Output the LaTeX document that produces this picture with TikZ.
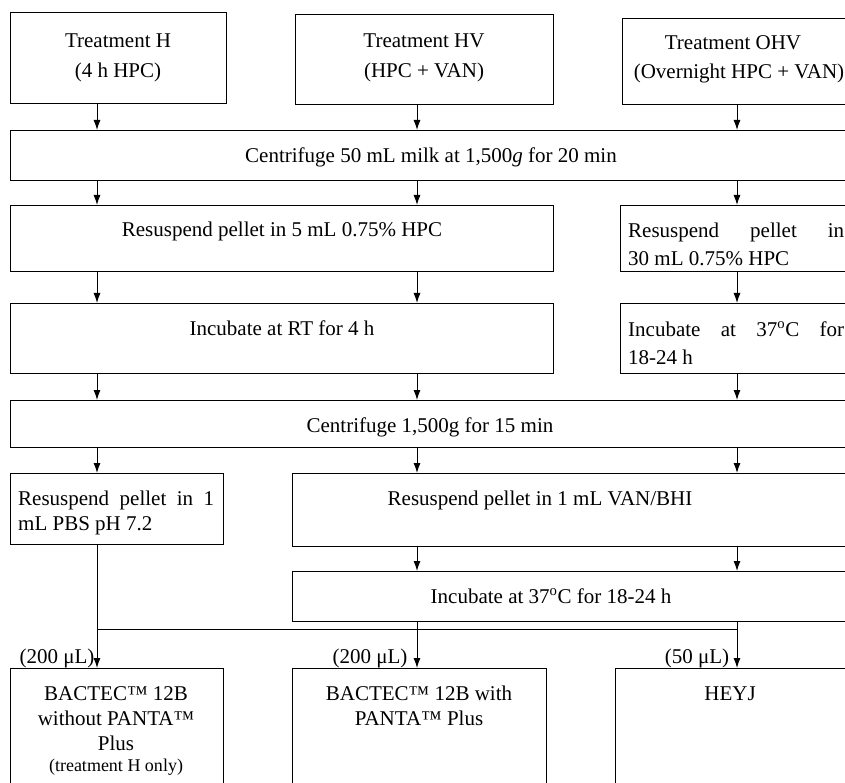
\documentclass[tikz,border=0pt]{standalone}
\usepackage{fontspec}
\setmainfont{Liberation Serif}
\usetikzlibrary{arrows.meta}
\newcommand\mybox[5]{\node[box,minimum width=#3pt,minimum height=#4pt] (#5) at (#1,#2) {};}
\begin{document}
\begin{tikzpicture}[x=1pt,y=-1pt,
 box/.style={draw,line width=1pt,inner sep=0pt,anchor=north west},
 txt/.style={inner sep=0pt,font=\fontsize{21}{25}\selectfont,text height=16pt,text depth=0pt},
 small/.style={inner sep=0pt,font=\fontsize{18}{22}\selectfont,text height=14pt,text depth=0pt},
 arr/.style={line width=1pt,-{Latex[length=10pt,width=7pt]}},
 ln/.style={line width=1pt}]
\useasboundingbox (0,0) rectangle (845,783);
\clip (0,0) rectangle (845,783);
\fill[white] (0,0) rectangle (845,783);
\coordinate (xa) at (97,0);
\coordinate (xb) at (417,0);
\coordinate (xc) at (737,0);
% boxes
\mybox{10}{12}{216}{91}{H}
\mybox{295}{14}{258}{90}{HV}
\mybox{622}{18}{234}{86}{OHV}
\mybox{10}{130}{842}{50}{C1}
\mybox{10}{205}{543}{66}{R1}
\mybox{620}{205}{236}{66}{R2}
\mybox{10}{303}{543}{70}{I1}
\mybox{620}{303}{236}{70}{I2}
\mybox{10}{400}{842}{47}{C2}
\mybox{10}{473}{213}{71}{P}
\mybox{292}{473}{560}{73}{V}
\mybox{292}{571}{560}{50}{I3}
\mybox{10}{668}{213}{130}{B1}
\mybox{292}{668}{254}{130}{B2}
\mybox{615}{668}{240}{130}{B3}
% texts
\node[txt] (tH1) at (118,40) {Treatment H};
\node[txt] (tH2) at (118,70) {(4 h HPC)};
\node[txt] (tHV1) at (424,40) {Treatment HV};
\node[txt] (tHV2) at (424,70) {(HPC + VAN)};
\node[txt] (tO1) at (733,42) {Treatment OHV};
\node[txt] (tO2) at (739,71) {(Overnight HPC + VAN)};
\node[txt] (tC1) at (431,155) {Centrifuge 50 mL milk at 1,500\textit{g} for 20 min};
\node[txt] (tR1) at (282,229) {Resuspend pellet in 5 mL 0.75\% HPC};
\node[txt,anchor=west] (tR2a) at (628,230) {\makebox[216pt]{Resuspend\hfill pellet\hfill in}};
\node[txt,anchor=west] (tR2b) at (628,258) {30 mL 0.75\% HPC};
\node[txt] (tI1) at (282,327) {Incubate at RT for 4 h};
\node[txt,anchor=west] (tI2a) at (628,328) {\makebox[216pt]{Incubate\hfill at\hfill 37\textsuperscript{o}C\hfill for}};
\node[txt,anchor=west] (tI2b) at (628,356) {18-24 h};
\node[txt] (tC2) at (430,424) {Centrifuge 1,500g for 15 min};
\node[txt,anchor=west] (tPa) at (18,497) {\makebox[196pt]{Resuspend\hfill pellet\hfill in\hfill 1}};
\node[txt,anchor=west] (tPb) at (18,522) {mL PBS pH 7.2};
\node[txt] (tV) at (540,497) {Resuspend pellet in 1 mL VAN/BHI};
\node[txt] (tI3) at (551,595) {Incubate at 37\textsuperscript{o}C for 18-24 h};
\node[txt] (tB1a) at (116,692) {BACTEC™ 12B};
\node[txt] (tB1b) at (116,717) {without PANTA™};
\node[txt] (tB1c) at (116,742) {Plus};
\node[small] (tB1d) at (116,764) {(treatment H only)};
\node[txt] (tB2a) at (419,692) {BACTEC™ 12B with};
\node[txt] (tB2b) at (419,717) {PANTA™ Plus};
\node[txt] (tB3) at (730,692) {HEYJ};
\node[txt] (l1) at (57,655) {(200 μL)};
\node[txt] (l2) at (370,655) {(200 μL)};
\node[txt] (l3) at (697,655) {(50 μL)};
% connectors
\foreach \s/\t/\c in {H/C1/xa,HV/C1/xb,OHV/C1/xc,C1/R1/xa,C1/R1/xb,C1/R2/xc,
  R1/I1/xa,R1/I1/xb,R2/I2/xc,I1/C2/xa,I1/C2/xb,I2/C2/xc,C2/P/xa,C2/V/xb,C2/V/xc,
  V/I3/xb,V/I3/xc,P/B1/xa,I3/B2/xb,I3/B3/xc}
  \draw[arr] (\s.south -| \c) -- (\t.north -| \c);
\coordinate (j1) at (97,629);
\coordinate (j3) at (737,629);
\draw[ln] (j1) -- (j3);
\end{tikzpicture}
\end{document}
